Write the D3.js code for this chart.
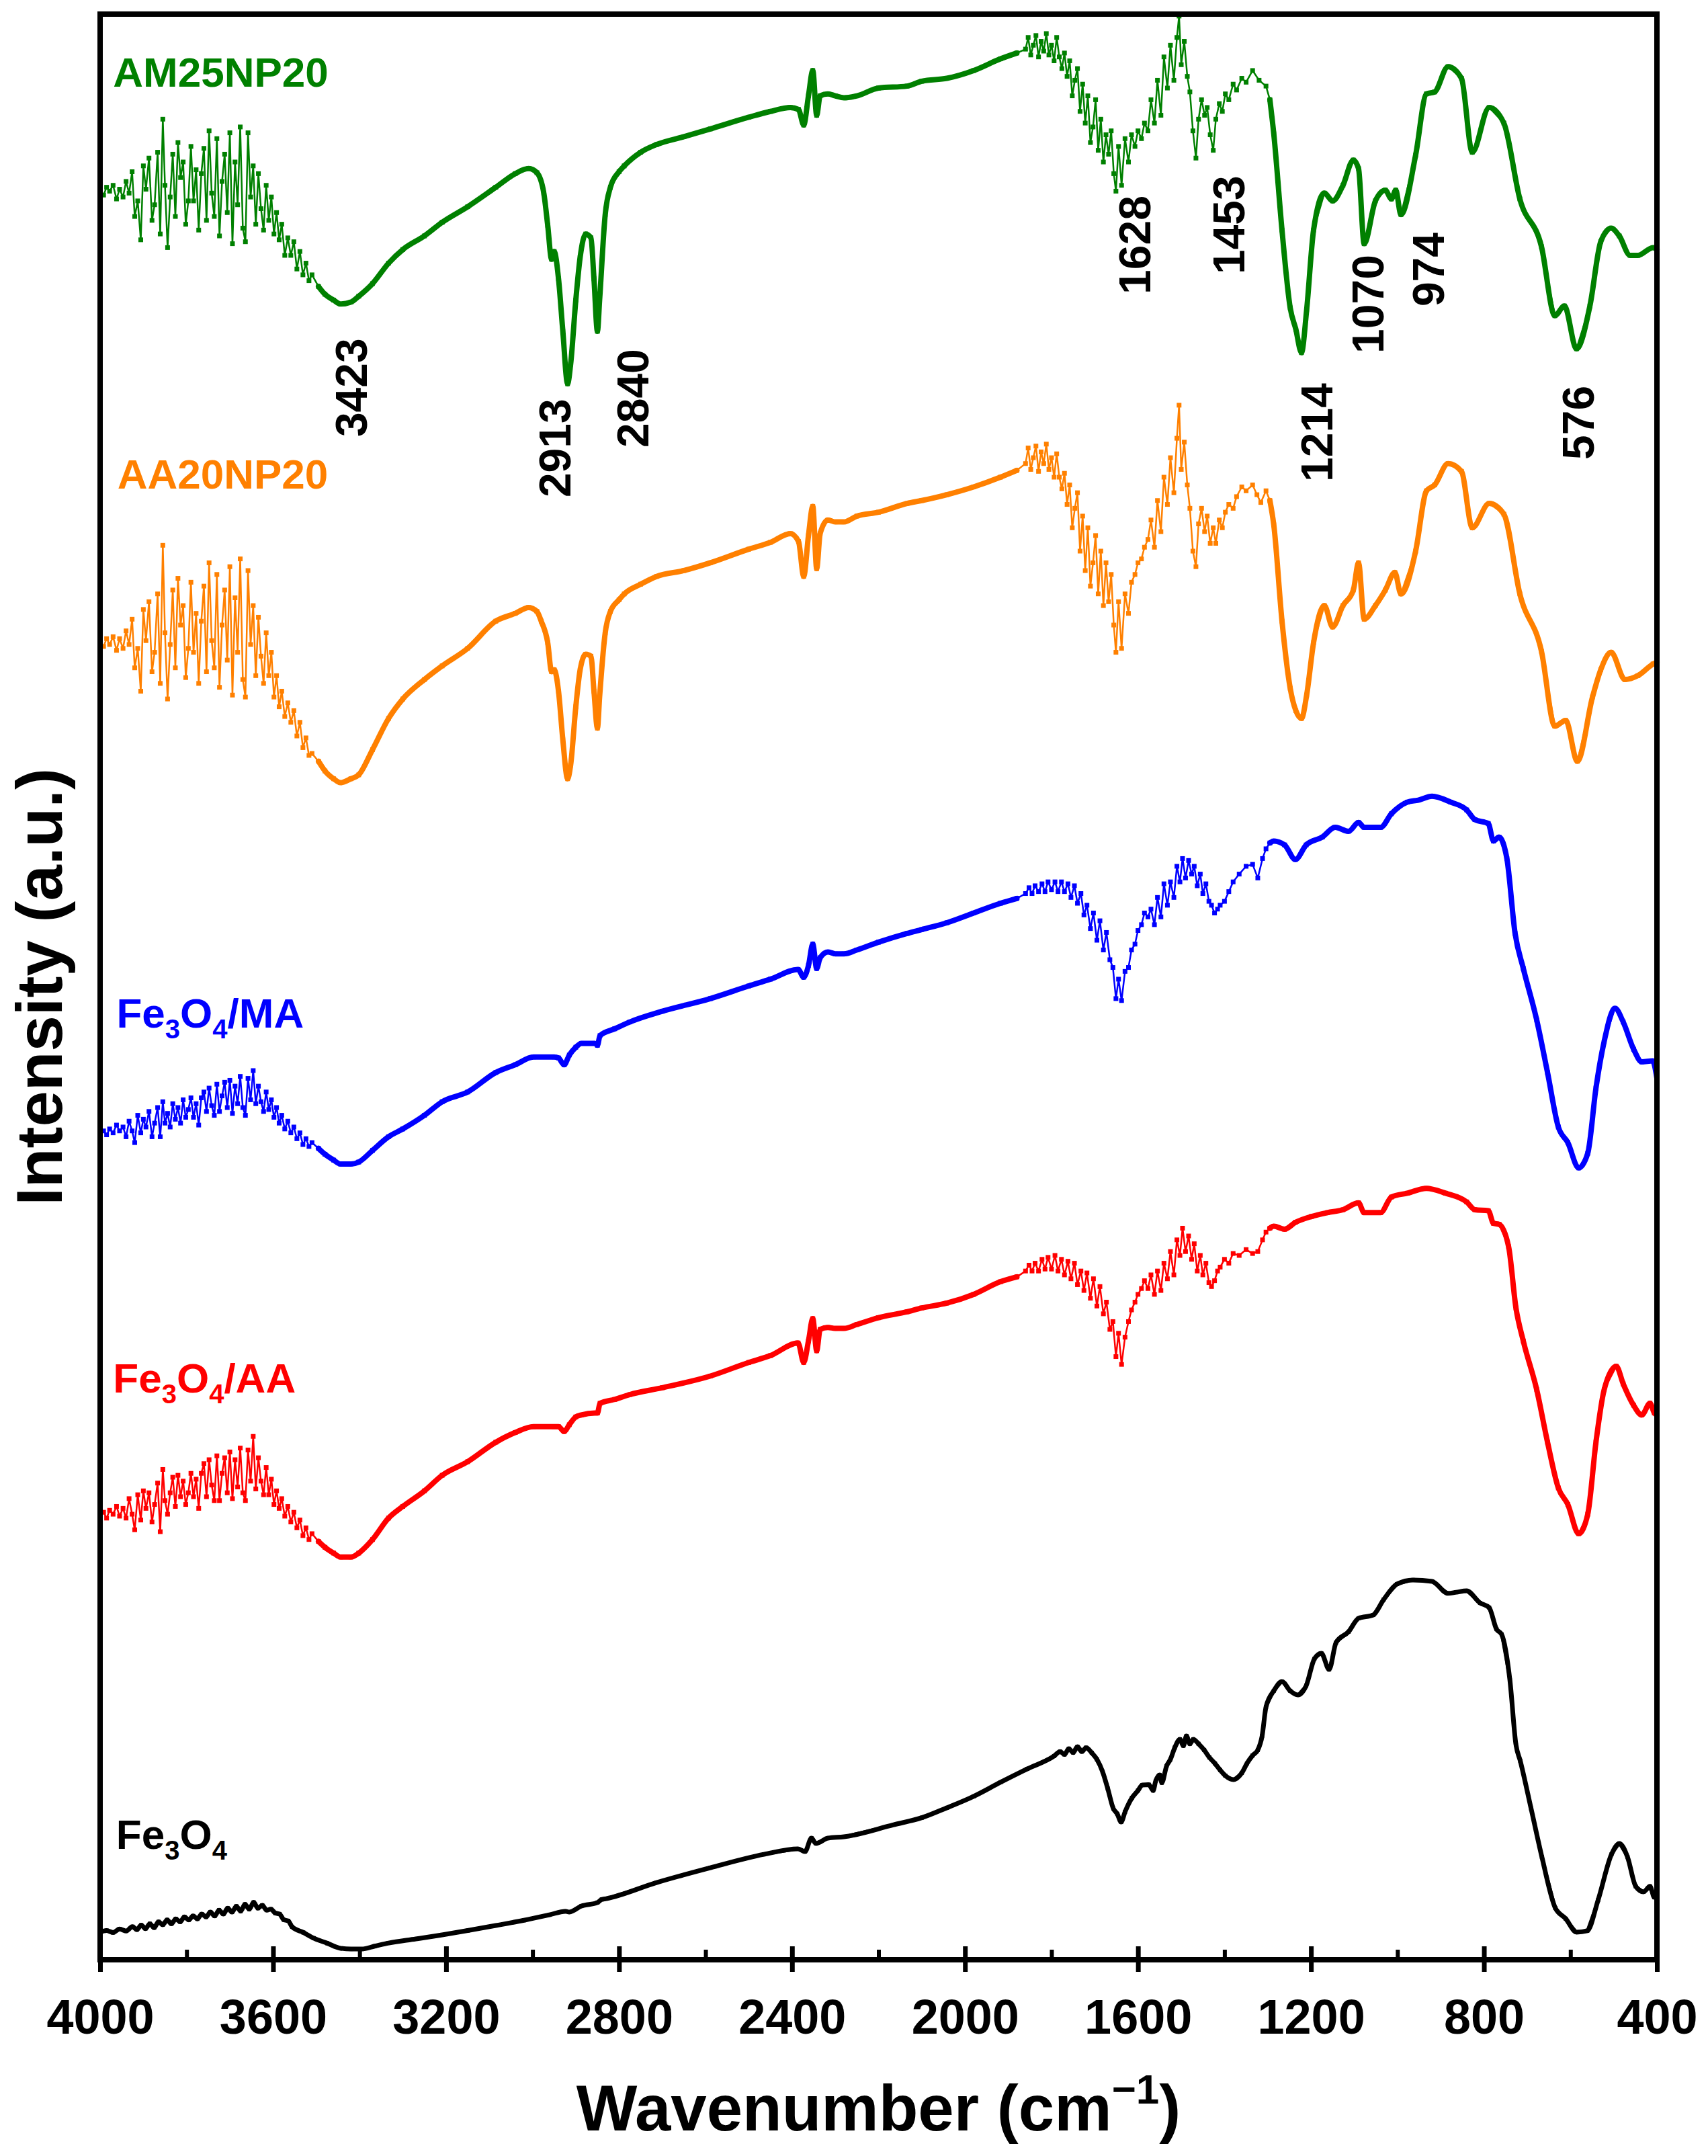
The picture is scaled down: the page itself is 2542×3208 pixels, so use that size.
<!DOCTYPE html>
<html><head><meta charset="utf-8">
<script src="https://cdn.jsdelivr.net/npm/d3@7"></script>
<style>body{margin:0;background:#fff} svg{display:block}</style>
</head><body>
<script>
// ---------------- DATA ----------------
const xTicks = [4000,3600,3200,2800,2400,2000,1600,1200,800,400];
const xMinorTicks = [3800,3400,3000,2600,2200,1800,1400,1000,600];
const seriesNames = ["AM25NP20","AA20NP20","Fe3O4/MA","Fe3O4/AA","Fe3O4"];
const seriesColors = ["#008000","#FF8000","#0000FF","#FF0000","#000000"];

const am25np20 = [[4000,90.9],[3992,90.7],[3985,91.1],[3978,90.9],[3970,91.2],[3962,90.5],[3955,91.0],[3947,90.6],[3940,91.4],[3933,90.8],[3926,91.9],[3920,89.6],[3913,90.4],[3906,88.4],[3900,92.2],[3894,91.0],[3887,92.6],[3880,89.4],[3874,90.2],[3867,92.9],[3861,88.7],[3855,94.6],[3850,91.2],[3844,88.0],[3838,90.6],[3832,92.8],[3826,89.6],[3820,93.4],[3814,91.6],[3808,92.4],[3802,89.2],[3796,90.4],[3790,93.2],[3784,90.4],[3778,92.0],[3772,88.9],[3766,91.8],[3760,93.1],[3754,89.4],[3748,94.0],[3742,90.8],[3736,89.6],[3730,93.6],[3724,88.6],[3718,91.4],[3712,92.8],[3706,89.8],[3700,93.9],[3694,88.2],[3688,92.4],[3682,90.2],[3676,94.2],[3670,89.0],[3664,88.3],[3658,93.9],[3652,90.6],[3646,92.2],[3640,89.2],[3634,91.8],[3628,90.0],[3622,88.9],[3616,91.2],[3610,89.4],[3604,90.6],[3598,88.7],[3592,89.8],[3586,88.4],[3580,89.2],[3573,87.6],[3566,88.5],[3559,87.6],[3552,88.3],[3545,86.9],[3538,87.8],[3531,86.6],[3524,87.2],[3517,86.3],[3510,86.6],
[3495,86.0],[3480,85.6],[3460,85.3],[3444,85.1],[3420,85.2],[3402,85.5],[3370,86.15],[3333,87.2],[3300,87.9],[3250,88.6],[3209,89.3],[3150,90.1],[3085,91.1],[3040,91.8],[3009,92.06],[2990,91.85],[2974,90.8],[2965,89.15],[2956,87.4],[2950,87.8],[2940,86.4],[2930,83.7],[2919,81.0],[2912,82.0],[2900,85.3],[2890,87.5],[2877,88.7],[2865,88.5],[2858,86.4],[2850,83.7],[2845,85.3],[2832,89.7],[2820,91.1],[2800,91.9],[2788,92.2],[2750,92.9],[2713,93.3],[2650,93.7],[2589,94.1],[2500,94.7],[2450,95.0],[2404,95.2],[2385,95.1],[2373,94.3],[2362,95.8],[2352,97.1],[2343,94.8],[2335,95.8],[2317,95.9],[2300,95.8],[2280,95.7],[2250,95.8],[2200,96.2],[2134,96.3],[2100,96.55],[2042,96.7],[1980,97.1],[1918,97.7],[1880,98.0],
[1860,98.2],[1854,98.8],[1848,97.9],[1842,98.4],[1836,98.9],[1830,97.8],[1824,98.6],[1818,98.1],[1812,99.0],[1806,97.9],[1800,98.4],[1794,97.6],[1788,98.8],[1782,97.8],[1776,97.2],[1770,98.0],[1764,96.8],[1758,97.6],[1752,95.8],[1746,96.6],[1740,97.2],[1734,95.0],[1728,96.4],[1722,94.4],[1716,95.8],[1710,93.4],[1704,94.2],[1698,95.6],[1692,93.0],[1686,94.6],[1680,92.4],[1674,93.8],[1668,92.8],[1662,94.0],[1656,91.8],[1651,90.9],[1645,93.2],[1638,91.2],[1630,93.6],[1622,92.4],[1615,93.8],[1607,93.2],[1600,94.0],[1592,93.6],[1585,94.4],[1577,94.0],[1570,95.6],[1562,94.4],[1555,96.6],[1547,94.8],[1540,97.8],[1532,96.2],[1525,98.4],[1517,96.6],[1510,98.8],[1505,99.9],[1500,97.4],[1493,98.6],[1486,96.8],[1480,96.0],[1473,94.0],[1466,92.6],[1460,94.6],[1453,95.6],[1446,94.8],[1440,95.2],[1433,93.8],[1426,93.0],[1420,94.6],[1412,95.4],[1405,95.0],[1398,95.9],[1390,95.6],[1380,96.4],[1372,96.1],[1360,96.7],[1350,96.5],[1335,97.1],[1320,96.6],[1304,96.3],
[1295,95.6],[1286,93.85],[1267,88.9],[1248,84.9],[1235,83.8],[1222,82.6],[1210,84.8],[1194,88.9],[1169,90.8],[1150,90.4],[1126,91.2],[1102,92.5],[1090,92.06],[1077,88.2],[1051,90.4],[1028,90.95],[1014,90.5],[1004,90.95],[992,89.7],[958,92.75],[933,95.9],[914,96.0],[883,97.3],[852,96.7],[827,92.9],[788,95.2],[754,94.4],[717,90.5],[667,88.05],[636,84.5],[614,85.0],[586,82.8],[555,85.0],[530,88.3],[506,89.0],[487,88.6],[462,87.6],[444,87.6],[409,88.0],[400,87.9]];

const aa20np20 = [[4000,67.7],[3992,67.5],[3985,67.9],[3978,67.6],[3970,68.0],[3962,67.3],[3955,67.9],[3947,67.4],[3940,68.3],[3933,67.6],[3926,68.9],[3920,66.4],[3913,67.4],[3906,65.2],[3900,69.4],[3894,67.8],[3887,69.8],[3880,66.2],[3874,67.2],[3867,70.2],[3861,65.6],[3855,72.7],[3850,68.2],[3844,64.8],[3838,67.6],[3832,70.4],[3826,66.4],[3820,71.0],[3814,68.6],[3808,69.6],[3802,65.9],[3796,67.4],[3790,70.8],[3784,67.2],[3778,69.2],[3772,65.6],[3766,68.8],[3760,70.6],[3754,66.2],[3748,71.8],[3742,67.8],[3736,66.4],[3730,71.2],[3724,65.4],[3718,68.6],[3712,70.4],[3706,66.8],[3700,71.6],[3694,65.0],[3688,70.0],[3682,67.2],[3676,72.0],[3670,65.8],[3664,64.9],[3658,71.4],[3652,67.6],[3646,69.6],[3640,66.0],[3634,69.0],[3628,67.0],[3622,65.6],[3616,68.2],[3610,66.0],[3604,67.2],[3598,64.9],[3592,66.0],[3586,64.4],[3580,65.2],[3573,63.9],[3566,64.6],[3559,63.6],[3552,64.2],[3545,62.9],[3538,63.6],[3531,62.3],[3524,62.8],[3517,61.9],[3510,62.0],
[3495,61.6],[3480,61.1],[3460,60.7],[3444,60.5],[3420,60.7],[3402,60.9],[3370,62.2],[3333,63.8],[3300,64.8],[3250,65.8],[3209,66.5],[3150,67.4],[3085,68.8],[3040,69.2],[3009,69.5],[2990,69.3],[2980,68.8],[2965,67.7],[2956,66.2],[2950,66.3],[2940,65.2],[2930,62.7],[2919,60.7],[2912,61.4],[2900,64.4],[2890,66.3],[2877,67.1],[2865,67.0],[2858,65.2],[2850,63.3],[2845,64.9],[2832,68.2],[2820,69.3],[2800,69.9],[2788,70.2],[2750,70.7],[2713,71.1],[2650,71.4],[2589,71.8],[2500,72.5],[2450,72.85],[2404,73.3],[2385,72.9],[2373,71.1],[2362,73.2],[2352,74.7],[2343,71.5],[2335,73.3],[2317,74.0],[2300,73.9],[2280,73.9],[2250,74.2],[2200,74.4],[2134,74.85],[2100,75.0],[2042,75.3],[1980,75.7],[1918,76.2],[1880,76.55],
[1860,76.9],[1854,77.7],[1848,76.6],[1842,77.2],[1836,77.8],[1830,76.5],[1824,77.5],[1818,76.9],[1812,77.9],[1806,76.6],[1800,77.2],[1794,76.2],[1788,77.4],[1782,76.2],[1776,75.6],[1770,76.4],[1764,74.8],[1758,75.8],[1752,73.6],[1746,74.6],[1740,75.4],[1734,72.4],[1728,74.2],[1722,71.4],[1716,73.6],[1710,70.6],[1704,71.8],[1698,73.2],[1692,70.2],[1686,72.4],[1680,69.6],[1674,71.8],[1668,69.8],[1662,71.2],[1656,68.6],[1651,67.2],[1645,69.8],[1638,67.4],[1630,70.2],[1622,69.2],[1615,70.8],[1607,71.2],[1600,71.8],[1592,72.0],[1585,72.6],[1577,73.0],[1570,74.0],[1562,72.6],[1555,75.0],[1547,73.4],[1540,76.2],[1532,74.8],[1525,77.2],[1517,75.4],[1510,78.2],[1505,79.9],[1500,76.6],[1493,78.0],[1486,75.8],[1480,74.6],[1473,72.4],[1466,71.6],[1460,73.8],[1453,74.6],[1446,73.4],[1440,74.2],[1433,72.8],[1426,73.6],[1420,72.8],[1412,74.0],[1405,73.6],[1398,74.4],[1390,74.8],[1380,74.6],[1372,75.2],[1360,75.7],[1350,75.5],[1335,75.8],[1325,75.3],[1316,74.9],[1304,75.5],
[1295,75.0],[1286,73.75],[1267,68.8],[1248,65.35],[1235,64.2],[1222,63.8],[1210,65.0],[1194,67.7],[1169,69.6],[1150,68.5],[1126,69.6],[1102,70.4],[1090,71.8],[1077,68.9],[1051,69.6],[1028,70.4],[1006,71.3],[992,70.2],[958,72.4],[933,75.5],[914,75.8],[883,76.9],[852,76.5],[827,73.6],[788,74.85],[754,74.3],[717,70.2],[667,67.25],[636,63.4],[611,63.7],[584,61.6],[549,64.9],[530,66.3],[506,67.2],[474,65.8],[444,66.0],[409,66.6],[400,66.7]];

const fe3o4MA = [[4000,42.5],[3992,42.6],[3985,42.4],[3978,42.7],[3970,42.5],[3962,42.9],[3955,42.6],[3947,42.8],[3940,42.3],[3933,43.1],[3926,42.6],[3920,42.0],[3913,43.4],[3906,42.5],[3900,43.2],[3894,42.8],[3887,43.6],[3880,42.3],[3874,43.0],[3867,43.8],[3861,42.3],[3855,44.1],[3850,43.0],[3844,43.5],[3838,42.8],[3832,44.0],[3826,43.2],[3820,43.8],[3814,43.0],[3808,44.2],[3802,43.3],[3796,43.7],[3790,44.3],[3784,43.3],[3778,44.0],[3772,42.9],[3766,44.3],[3760,44.6],[3754,43.6],[3748,44.8],[3742,43.9],[3736,43.4],[3730,45.0],[3724,43.6],[3718,44.4],[3712,45.1],[3706,43.8],[3700,45.2],[3694,43.5],[3688,44.9],[3682,44.0],[3676,45.4],[3670,43.8],[3664,43.4],[3658,45.3],[3652,44.2],[3646,45.7],[3640,44.0],[3634,44.9],[3628,44.1],[3622,43.6],[3616,44.6],[3610,43.7],[3604,44.2],[3598,43.3],[3592,43.8],[3586,43.0],[3580,43.4],[3573,42.7],[3566,43.1],[3559,42.5],[3552,42.8],[3545,42.2],[3538,42.5],[3531,41.9],[3524,42.2],[3517,41.8],[3510,42.0],
[3495,41.7],[3480,41.4],[3460,41.1],[3444,40.9],[3420,40.9],[3402,41.0],[3370,41.6],[3333,42.3],[3300,42.7],[3250,43.4],[3209,44.1],[3150,44.6],[3085,45.6],[3040,46.0],[2998,46.4],[2950,46.4],[2940,46.35],[2927,46.0],[2915,46.5],[2900,46.9],[2887,47.1],[2856,47.1],[2850,47.0],[2844,47.5],[2810,47.85],[2775,48.2],[2700,48.75],[2589,49.4],[2500,50.05],[2450,50.4],[2386,50.9],[2373,50.5],[2362,51.1],[2352,52.2],[2343,50.95],[2335,51.5],[2317,51.8],[2300,51.7],[2280,51.7],[2250,51.9],[2200,52.3],[2134,52.75],[2100,52.95],[2042,53.3],[1980,53.8],[1918,54.3],[1880,54.55],
[1860,54.8],[1852,55.1],[1845,54.8],[1838,55.2],[1830,54.9],[1822,55.3],[1815,54.9],[1808,55.4],[1800,55.0],[1792,55.4],[1785,54.9],[1777,55.4],[1770,54.9],[1762,55.3],[1755,54.6],[1747,55.2],[1740,54.3],[1732,54.8],[1725,53.7],[1718,54.2],[1710,53.0],[1703,53.8],[1695,52.4],[1688,53.4],[1680,51.9],[1673,52.8],[1665,51.4],[1658,51.0],[1651,49.4],[1645,50.4],[1638,49.3],[1630,50.8],[1622,51.0],[1615,51.9],[1607,52.2],[1600,52.9],[1592,53.2],[1585,53.8],[1577,53.6],[1570,54.0],[1562,53.2],[1555,54.6],[1547,53.6],[1540,55.3],[1532,54.2],[1525,55.4],[1517,54.6],[1510,56.2],[1503,55.4],[1497,56.6],[1490,55.6],[1483,56.5],[1476,55.8],[1470,56.2],[1463,55.2],[1456,55.8],[1450,54.8],[1443,55.3],[1436,54.4],[1430,54.2],[1423,53.8],[1416,54.0],[1410,54.2],[1400,54.4],[1390,54.9],[1380,55.4],[1366,55.8],[1350,56.2],[1335,56.3],[1323,55.6],[1312,56.6],[1304,57.1],
[1295,57.4],[1286,57.5],[1261,57.3],[1236,56.55],[1211,57.3],[1174,57.7],[1144,58.2],[1113,58.0],[1090,58.45],[1077,58.2],[1039,58.2],[1014,58.9],[977,59.5],[952,59.6],[920,59.8],[877,59.5],[840,59.1],[821,58.6],[790,58.4],[778,57.5],[765,57.7],[747,56.6],[728,52.75],[709,50.95],[678,48.3],[653,45.6],[628,42.8],[606,42.0],[581,40.7],[560,41.45],[541,44.8],[522,47.2],[497,48.9],[478,48.2],[454,46.8],[435,46.15],[410,46.2],[400,45.3]];

const fe3o4AA = [[4000,22.9],[3992,23.0],[3985,22.7],[3978,23.1],[3970,22.9],[3962,23.3],[3955,22.8],[3947,23.2],[3940,22.7],[3933,23.7],[3926,22.9],[3920,22.1],[3913,23.9],[3906,22.6],[3900,24.1],[3894,23.2],[3887,24.0],[3880,22.5],[3874,23.4],[3867,24.5],[3861,22.0],[3855,25.2],[3850,23.6],[3844,22.9],[3838,24.0],[3832,24.8],[3826,23.3],[3820,24.9],[3814,23.8],[3808,24.6],[3802,23.4],[3796,24.0],[3790,25.0],[3784,23.8],[3778,24.7],[3772,23.2],[3766,25.0],[3760,25.5],[3754,23.8],[3748,25.7],[3742,24.4],[3736,23.6],[3730,25.9],[3724,23.6],[3718,25.0],[3712,25.8],[3706,24.0],[3700,26.1],[3694,23.7],[3688,25.7],[3682,24.3],[3676,26.3],[3670,24.0],[3664,23.6],[3658,26.2],[3652,24.6],[3646,26.9],[3640,24.2],[3634,25.8],[3628,24.6],[3622,23.9],[3616,25.3],[3610,23.9],[3604,24.7],[3598,23.4],[3592,24.1],[3586,23.2],[3580,23.7],[3573,22.8],[3566,23.3],[3559,22.5],[3552,23.0],[3545,22.2],[3538,22.6],[3531,21.8],[3524,22.2],[3517,21.6],[3510,21.9],
[3495,21.5],[3480,21.2],[3460,20.9],[3444,20.7],[3420,20.7],[3402,20.9],[3370,21.6],[3333,22.7],[3300,23.3],[3250,24.1],[3209,24.9],[3150,25.6],[3085,26.6],[3040,27.1],[2998,27.4],[2950,27.4],[2940,27.4],[2927,27.15],[2915,27.5],[2900,27.9],[2887,28.0],[2856,28.1],[2850,28.1],[2844,28.6],[2810,28.8],[2775,29.05],[2700,29.4],[2589,30.0],[2500,30.7],[2450,31.05],[2386,31.7],[2373,30.7],[2362,31.8],[2352,32.95],[2343,31.3],[2335,32.4],[2317,32.5],[2300,32.45],[2280,32.45],[2250,32.65],[2200,33.0],[2134,33.3],[2100,33.5],[2042,33.75],[1980,34.2],[1918,34.85],[1880,35.1],
[1860,35.4],[1852,35.7],[1845,35.4],[1838,35.8],[1830,35.4],[1822,36.0],[1815,35.5],[1808,36.1],[1800,35.5],[1792,36.2],[1785,35.4],[1777,36.0],[1770,35.2],[1762,35.9],[1755,35.0],[1747,35.8],[1740,34.7],[1732,35.4],[1725,34.4],[1718,35.3],[1710,34.0],[1703,35.0],[1695,33.6],[1688,34.6],[1680,33.2],[1673,33.8],[1665,32.4],[1658,32.8],[1651,31.0],[1645,32.2],[1638,30.6],[1630,32.0],[1622,32.8],[1615,33.4],[1607,33.8],[1600,34.2],[1592,34.5],[1585,34.9],[1577,34.5],[1570,35.2],[1562,34.2],[1555,35.4],[1547,34.4],[1540,35.8],[1532,35.0],[1525,36.4],[1517,35.2],[1510,37.0],[1503,36.2],[1497,37.6],[1490,36.4],[1483,37.2],[1476,36.0],[1470,36.8],[1463,35.4],[1456,36.2],[1450,35.2],[1443,35.8],[1436,34.8],[1430,34.6],[1423,34.9],[1416,35.4],[1410,35.6],[1400,36.0],[1390,35.8],[1380,36.3],[1366,36.2],[1350,36.5],[1335,36.3],[1323,36.4],[1312,37.0],[1304,37.4],
[1295,37.6],[1286,37.7],[1261,37.55],[1236,37.9],[1199,38.2],[1162,38.4],[1126,38.55],[1090,38.9],[1077,38.4],[1039,38.4],[1014,39.2],[977,39.4],[933,39.65],[889,39.4],[840,38.95],[821,38.55],[790,38.5],[778,37.85],[765,37.8],[743,36.65],[726,33.5],[709,31.8],[678,29.3],[653,26.6],[628,24.25],[606,23.4],[581,21.9],[560,22.9],[541,26.6],[522,29.3],[494,30.5],[478,29.6],[454,28.5],[435,28.0],[416,28.6],[406,28.1],[400,28.0]];

const fe3o4 = [[4000,1.42],[3985,1.50],[3970,1.40],[3955,1.58],[3940,1.48],[3925,1.70],[3915,1.55],[3905,1.78],[3895,1.60],[3885,1.85],[3875,1.65],[3865,1.95],[3855,1.80],[3845,2.05],[3835,1.85],[3825,2.10],[3815,1.95],[3805,2.20],[3795,2.05],[3785,2.25],[3775,2.10],[3765,2.35],[3755,2.20],[3745,2.45],[3735,2.25],[3725,2.55],[3715,2.35],[3705,2.65],[3695,2.45],[3685,2.75],[3675,2.50],[3665,2.85],[3655,2.60],[3645,2.95],[3635,2.65],[3625,2.80],[3615,2.55],[3605,2.60],[3595,2.40],[3585,2.35],[3575,2.05],[3565,2.00],
[3556,1.69],[3530,1.4],[3506,1.11],[3475,0.85],[3444,0.59],[3420,0.55],[3395,0.55],[3365,0.7],[3333,0.86],[3270,1.07],[3209,1.28],[3150,1.5],[3085,1.76],[3020,2.03],[2961,2.31],[2924,2.49],[2915,2.45],[2887,2.76],[2850,2.94],[2840,3.1],[2830,3.14],[2713,3.97],[2589,4.73],[2465,5.42],[2386,5.70],[2370,5.56],[2355,6.25],[2345,5.98],[2317,6.25],[2280,6.32],[2165,6.94],[2100,7.3],[2042,7.81],[1980,8.4],[1918,9.12],[1856,9.81],[1794,10.47],[1780,10.70],[1770,10.55],[1760,10.85],[1750,10.65],[1740,10.95],[1730,10.70],[1720,10.90],[1707,10.64],[1695,10.3],[1682,9.67],[1670,8.8],[1657,7.77],[1648,7.5],[1639,7.08],[1630,7.6],[1614,8.32],[1600,8.7],[1590,8.98],[1575,9.0],[1565,8.7],[1559,9.19],[1550,9.5],[1545,9.1],[1534,9.95],[1525,10.3],[1515,10.9],[1503,11.33],[1495,11.0],[1488,11.5],[1480,11.1],[1472,11.33],[1460,11.1],[1447,10.78],[1435,10.4],[1422,10.09],[1410,9.75],[1398,9.46],[1379,9.26],[1360,9.6],[1348,10.09],[1335,10.5],[1323,10.78],[1313,11.5],[1304,12.99],[1286,13.82],[1267,14.30],[1248,13.82],[1230,13.61],[1211,14.09],[1192,15.47],[1176,15.75],[1158,14.92],[1142,16.30],[1113,16.86],[1090,17.55],[1056,17.72],[1032,18.51],[1001,19.31],[964,19.52],[920,19.45],[883,18.83],[864,18.89],[840,18.96],[809,18.34],[788,18.10],[771,16.99],[759,16.72],[740,14.37],[726,11.05],[716,10.22],[691,7.77],[666,5.28],[635,2.66],[611,2.11],[586,1.42],[561,1.49],[536,3.07],[505,5.42],[487,5.98],[468,5.28],[449,3.77],[431,3.49],[416,3.77],[406,3.21],[400,3.32]];

const seriesData = [am25np20, aa20np20, fe3o4MA, fe3o4AA, fe3o4];

// peak annotations: text, wavenumber at label baseline, intensity at label start
const peakLabels = ["3423","2913","2840","1628","1453","1214","1070","974","576"];
const peakLabelWn = [3383,2912,2732,1571,1354,1150,1032,892,546];
const peakLabelVal = [78.27,75.16,77.72,85.60,86.63,75.96,82.56,84.97,77.10];

// series name labels (wavenumber of left edge, intensity of baseline)
const nameLabelWn = [3970,3960,3962,3970,3963];
const nameLabelVal = [96.27,75.61,47.91,29.15,5.70];

// noisy bands (drawn as thin line + markers)
const noiseBands = [[4000,3505],[1865,1300]];

// ---------------- LAYOUT ----------------
const W = 2542, H = 3208;
const L = 149, R = 2466, T = 21, B = 2916;
const FONT = "'Liberation Sans', Arial, Helvetica, sans-serif";

const svg = d3.select("body").append("svg").attr("width", W).attr("height", H)
  .style("background", "#fff");

const x = d3.scaleLinear().domain([4000, 400]).range([L, R]);
const y = d3.scaleLinear().domain([0, 100]).range([B, T]);

const inNoise = wn => noiseBands.some(b => wn <= b[0] && wn >= b[1]);

// series
seriesData.forEach((data, i) => {
  const col = seriesColors[i];
  const isBlack = i === 4;
  const g = svg.append("g");
  const thin = d3.line().x(d => x(d[0])).y(d => y(d[1]));
  g.append("path").datum(data).attr("d", thin)
    .attr("fill", "none").attr("stroke", col).attr("stroke-width", isBlack ? 4.5 : 2.5)
    .attr("stroke-linejoin", "round");
  const thick = d3.line().defined(d => isBlack || !inNoise(d[0]))
    .curve(d3.curveMonotoneX)
    .x(d => x(d[0])).y(d => y(d[1]));
  g.append("path").datum(data).attr("d", thick)
    .attr("fill", "none").attr("stroke", col).attr("stroke-width", isBlack ? 7 : 8)
    .attr("stroke-linejoin", "round").attr("stroke-linecap", "round");
  const ms = isBlack ? 6 : 7;
  g.selectAll("rect").data(data).join("rect")
    .attr("x", d => x(d[0]) - ms / 2).attr("y", d => y(d[1]) - ms / 2)
    .attr("width", ms).attr("height", ms).attr("fill", col);
});

// frame
svg.append("rect").attr("x", L).attr("y", T).attr("width", R - L).attr("height", B - T)
  .attr("fill", "none").attr("stroke", "#000").attr("stroke-width", 8);

// x axis major
const gx = svg.append("g").attr("transform", `translate(0,${B})`)
  .call(d3.axisBottom(x).tickValues(xTicks).tickSize(18).tickFormat(d3.format("d")));
gx.select(".domain").remove();
gx.selectAll(".tick line").attr("y1", -20).attr("y2", 18)
  .attr("stroke", "#000").attr("stroke-width", 7);
gx.selectAll(".tick text").attr("y", 110).attr("dy", null)
  .attr("fill", "#000").style("font-family", FONT).style("font-size", "72px")
  .style("font-weight", "bold");

// x axis minor
const gm = svg.append("g").attr("transform", `translate(0,${B})`)
  .call(d3.axisBottom(x).tickValues(xMinorTicks).tickSize(0).tickFormat(""));
gm.select(".domain").remove();
gm.selectAll(".tick line").attr("y1", -15).attr("y2", 0)
  .attr("stroke", "#000").attr("stroke-width", 6);

// axis titles
const xt = svg.append("text").attr("x", (L + R) / 2).attr("y", 3170)
  .attr("text-anchor", "middle").style("font-family", FONT)
  .style("font-size", "96px").style("font-weight", "bold").attr("fill", "#000");
xt.append("tspan").text("Wavenumber (cm");
xt.append("tspan").attr("dy", -40).style("font-size", "62px").text("\u22121");
xt.append("tspan").attr("dy", 40).text(")");

svg.append("text").attr("transform", `translate(92,${(T + B) / 2}) rotate(-90)`)
  .attr("text-anchor", "middle").style("font-family", FONT)
  .style("font-size", "96px").style("font-weight", "bold").attr("fill", "#000")
  .text("Intensity (a.u.)");

// series name labels
seriesNames.forEach((name, i) => {
  const t = svg.append("text").attr("x", x(nameLabelWn[i])).attr("y", y(nameLabelVal[i]))
    .style("font-family", FONT).style("font-size", "62px").style("font-weight", "bold")
    .attr("fill", seriesColors[i]);
  if (name.startsWith("Fe3O4")) {
    t.append("tspan").text("Fe");
    t.append("tspan").attr("dy", 16).style("font-size", "40px").text("3");
    t.append("tspan").attr("dy", -16).text("O");
    t.append("tspan").attr("dy", 16).style("font-size", "40px").text("4");
    const rest = name.slice(5);
    if (rest) t.append("tspan").attr("dy", -16).text(rest);
  } else {
    t.text(name);
  }
});

// peak annotations
peakLabels.forEach((lab, i) => {
  svg.append("text")
    .attr("transform", `translate(${x(peakLabelWn[i])},${y(peakLabelVal[i])}) rotate(-90)`)
    .attr("text-anchor", "start").style("font-family", FONT)
    .style("font-size", "66px").style("font-weight", "bold").attr("fill", "#000")
    .text(lab);
});
</script>
</body></html>
